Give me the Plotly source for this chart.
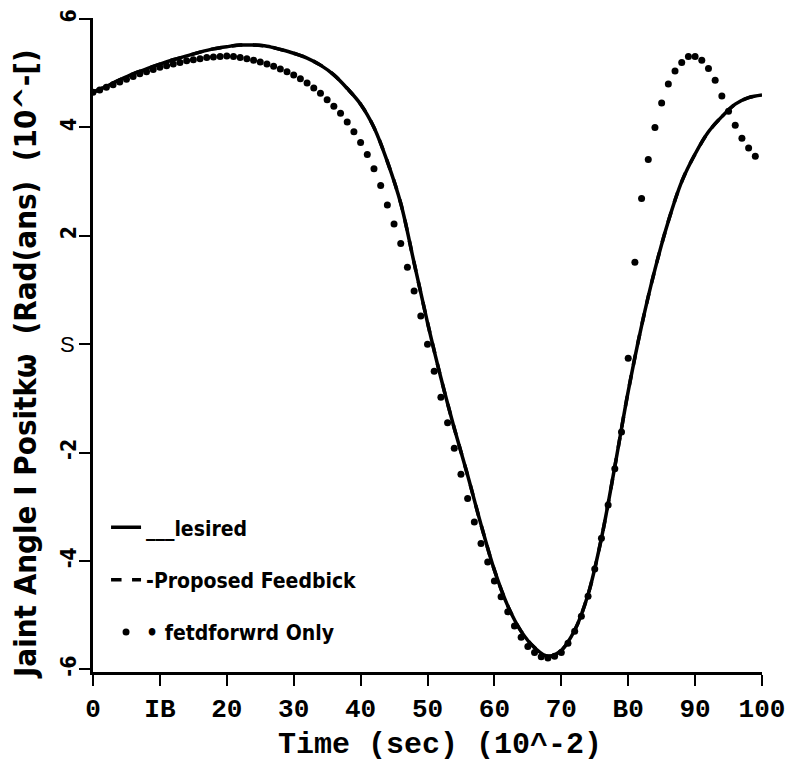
import plotly.graph_objects as go

# ---- data ----
t_desired = [0, 2, 4, 6, 8, 10, 12, 14, 16, 18, 20, 22, 24, 26, 28, 30, 32, 34, 36, 38,
             40, 42, 44, 46, 48, 50, 52, 54, 56, 58, 60, 62, 64, 66, 68, 70, 72, 74, 76, 78,
             80, 82, 84, 86, 88, 90, 92, 94, 96, 98, 100]
desired = [4.65, 4.76, 4.88, 4.99, 5.08, 5.17, 5.25, 5.32, 5.39, 5.45, 5.49, 5.52, 5.52, 5.50,
           5.44, 5.37, 5.28, 5.15, 4.97, 4.72, 4.43, 4.00, 3.37, 2.60, 1.50, 0.40, -0.62,
           -1.55, -2.42, -3.33, -4.17, -4.83, -5.30, -5.60, -5.76, -5.65, -5.28, -4.62,
           -3.58, -2.26, -0.87, 0.34, 1.38, 2.27, 3.00, 3.51, 3.92, 4.20, 4.43, 4.55, 4.60]
proposed = [4.65, 4.76, 4.88, 4.99, 5.08, 5.17, 5.25, 5.32, 5.39, 5.45, 5.49, 5.52, 5.52, 5.50,
            5.44, 5.37, 5.28, 5.15, 4.97, 4.72, 4.43, 4.00, 3.37, 2.60, 1.50, 0.40, -0.62,
            -1.55, -2.42, -3.33, -4.17, -4.83, -5.30, -5.60, -5.76, -5.65, -5.28, -4.62,
            -3.58, -2.26, -0.87, 0.34, 1.38, 2.27, 3.00, 3.51, 3.92, 4.20, 4.43, 4.55, 4.60]

t_ff = list(range(0, 100))
feedforward = [4.65, 4.69, 4.74, 4.79, 4.84, 4.89, 4.94, 4.99, 5.03, 5.07,
               5.11, 5.14, 5.17, 5.20, 5.23, 5.25, 5.27, 5.29, 5.30, 5.31,
               5.32, 5.31, 5.29, 5.27, 5.24, 5.21, 5.17, 5.13, 5.08, 5.03,
               4.97, 4.90, 4.82, 4.73, 4.63, 4.51, 4.39, 4.26, 4.10, 3.92,
               3.72, 3.50, 3.24, 2.93, 2.57, 2.22, 1.86, 1.42, 0.98, 0.52,
               0.00, -0.50, -0.98, -1.45, -1.92, -2.40, -2.85, -3.28, -3.68, -4.02,
               -4.37, -4.66, -4.94, -5.20, -5.41, -5.58, -5.69, -5.77, -5.79, -5.76,
               -5.69, -5.52, -5.30, -5.02, -4.65, -4.15, -3.58, -2.97, -2.30, -1.62,
               -0.26, 1.51, 2.69, 3.41, 4.00, 4.45, 4.80, 5.04, 5.20, 5.31,
               5.31, 5.24, 5.09, 4.87, 4.58, 4.30, 4.04, 3.80, 3.62, 3.47]

x_tick_vals = [0, 10, 20, 30, 40, 50, 60, 70, 80, 90, 100]
x_tick_text = ["0", "IB", "20", "30", "40", "50", "60", "70", "B0", "90", "100"]
y_tick_vals = [-6, -4, -2, 0, 2, 4, 6]
y_tick_text = ["-6", "-4", "-2", "", "2", "4", "6"]
zero_label = "S"

series_names = ["___lesired", "-Proposed Feedbick", "\u2022 fetdforwrd Only"]
x_title = "Time (sec) (10^-2)"
y_title = "Jaint Angle I Positk\u03c9  (Rad(ans)  (10^-[)"

NARROW = "Liberation Sans Narrow, DejaVu Sans Condensed, Arial Narrow, sans-serif"
MONO = "Courier New, Nimbus Mono PS, Nimbus Mono L, FreeMono, Liberation Mono, monospace"

fig = go.Figure()
fig.add_trace(go.Scatter(x=t_desired, y=desired, mode="lines", name=series_names[0],
                         line=dict(color="black", width=3.5, shape="spline"),
                         legendgroup="a"))
fig.add_trace(go.Scatter(x=t_desired, y=proposed, mode="lines", name=series_names[1],
                         line=dict(color="black", width=3.5, dash="dash", shape="spline"),
                         legendgroup="b"))
fig.add_trace(go.Scatter(x=t_ff, y=feedforward, mode="markers", name=series_names[2],
                         marker=dict(color="black", size=7),
                         legendgroup="c"))

fig.update_layout(
    width=812, height=761,
    margin=dict(l=85, r=58, t=10, b=97),
    paper_bgcolor="white", plot_bgcolor="white",
    showlegend=True,
    legend=dict(x=0.0195, y=0.252, xanchor="left", yanchor="top",
                bgcolor="rgba(0,0,0,0)", tracegroupgap=22,
                font=dict(family=NARROW, size=21, color="black", weight="bold")),
    xaxis=dict(range=[0, 100], showline=True, linewidth=3, linecolor="black",
               ticks="outside", ticklen=11, tickwidth=2, tickcolor="black",
               tickvals=x_tick_vals, ticktext=x_tick_text, automargin=False,
               tickfont=dict(family=MONO, size=26, color="black", weight="bold"),
               showgrid=False, zeroline=False),
    yaxis=dict(range=[-6.05, 6.02], showline=True, linewidth=3, linecolor="black",
               ticks="outside", ticklen=11, tickwidth=2, tickcolor="black",
               tickvals=y_tick_vals, ticktext=y_tick_text, tickangle=-90, automargin=False,
               ticklabelstandoff=-5,
               tickfont=dict(family=NARROW, size=21, color="black", weight="bold"),
               showgrid=False, zeroline=False),
    annotations=[
        dict(text=zero_label, x=-0.038, y=0, xref="paper", yref="y", showarrow=False,
             xanchor="center", yanchor="middle",
             font=dict(family="Liberation Sans, Arial, sans-serif", size=22, color="black")),
        dict(text=x_title, x=0.519, y=-0.112, xref="paper", yref="paper", showarrow=False,
             xanchor="center", yanchor="middle",
             font=dict(family=MONO, size=30, color="black", weight="bold")),
        dict(text=y_title, x=-0.1016, y=0.471, xref="paper", yref="paper", showarrow=False,
             xanchor="center", yanchor="middle", textangle=-90,
             font=dict(family=NARROW, size=31, color="black", weight="bold")),
    ],
)

fig.write_html("out.html")
